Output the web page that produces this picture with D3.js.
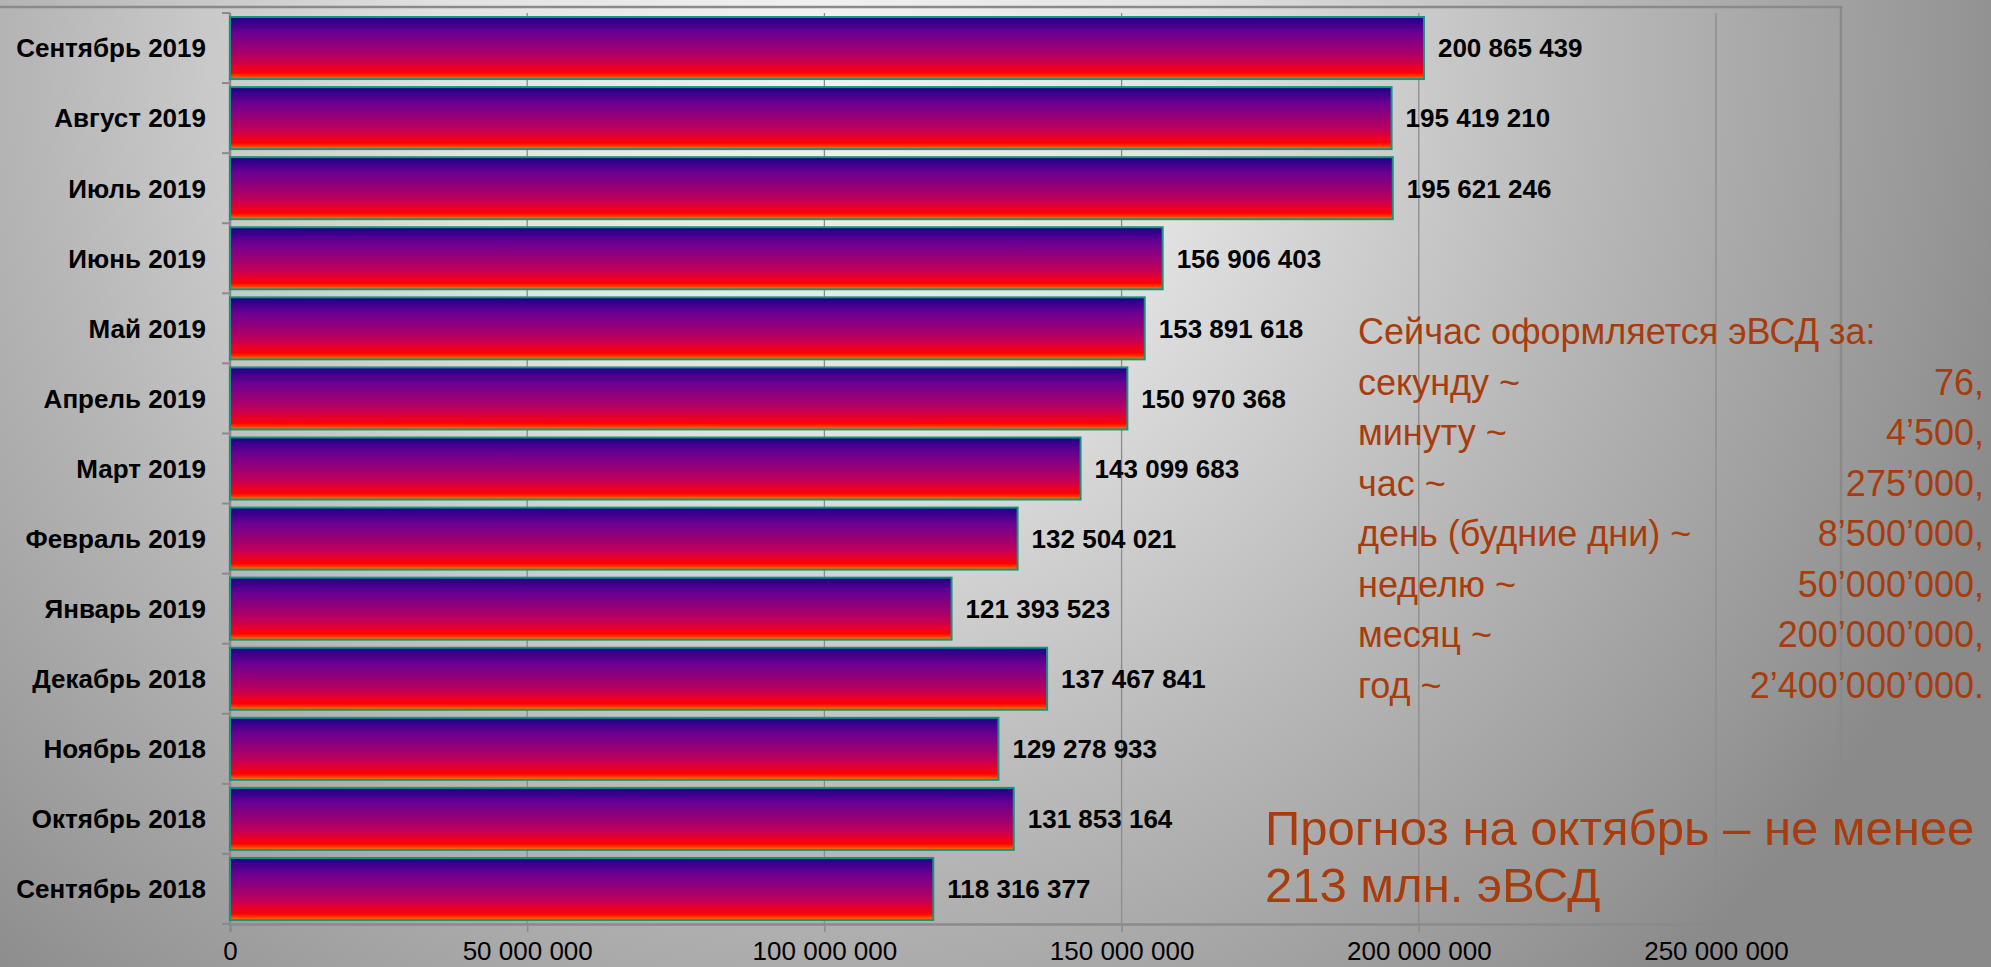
<!DOCTYPE html>
<html>
<head>
<meta charset="utf-8">
<script src="https://cdn.jsdelivr.net/npm/d3@7"></script>
<style>
  body { margin: 0; padding: 0; overflow: hidden; }
  text { font-family: "Liberation Sans", Arial, sans-serif; }
</style>
</head>
<body>
<div id="chart"></div>
<script>

var months = ["Сентябрь 2019", "Август 2019", "Июль 2019", "Июнь 2019", "Май 2019",
  "Апрель 2019", "Март 2019", "Февраль 2019", "Январь 2019", "Декабрь 2018",
  "Ноябрь 2018", "Октябрь 2018", "Сентябрь 2018"]
var counts = [200865439, 195419210, 195621246, 156906403, 153891618,
  150970368, 143099683, 132504021, 121393523, 137467841,
  129278933, 131853164, 118316377]
var xTicks = [0, 50000000, 100000000, 150000000, 200000000, 250000000]

var rateTitle = "Сейчас оформляется эВСД за:"
var rateLabels = ["секунду ~", "минуту ~", "час ~", "день (будние дни) ~", "неделю ~", "месяц ~", "год ~"]
var rateValues = ["76,", "4’500,", "275’000,", "8’500’000,", "50’000’000,", "200’000’000,", "2’400’000’000."]
var forecastLines = ["Прогноз на октябрь – не менее", "213 млн. эВСД"]

var W = 1991, H = 967
var fmt = function(v) { return d3.format(",")(v).replace(/,/g, " ") }

var svg = d3.select("#chart")
  .append("svg")
  .attr("width", W)
  .attr("height", H)

var defs = svg.append("defs")

// background
var bg = defs.append("radialGradient")
  .attr("id", "bg")
  .attr("gradientUnits", "userSpaceOnUse")
  .attr("cx", 820).attr("cy", 60).attr("r", 1250)
bg.append("stop").attr("offset", 0).attr("stop-color", "#f2f2f2")
bg.append("stop").attr("offset", 0.3).attr("stop-color", "#e2e2e2")
bg.append("stop").attr("offset", 0.62).attr("stop-color", "#b8b8b8")
bg.append("stop").attr("offset", 0.9).attr("stop-color", "#979797")
bg.append("stop").attr("offset", 1).attr("stop-color", "#8a8a8a")

// bar fill
var bar = defs.append("linearGradient")
  .attr("id", "barFill")
  .attr("x1", 0).attr("y1", 0).attr("x2", 0).attr("y2", 1)
var barStops = [[0, "#1c0088"], [0.25, "#6a0092"], [0.47, "#940078"], [0.68, "#c0005a"],
  [0.84, "#f00020"], [0.9, "#ff0000"], [0.95, "#ff3a00"], [1, "#ff8000"]]
barStops.forEach(function(s) {
  bar.append("stop").attr("offset", s[0]).attr("stop-color", s[1])
})

svg.append("rect")
  .attr("width", W).attr("height", H)
  .attr("fill", "url(#bg)")

// outer frame
svg.append("path")
  .attr("d", "M-2,7H1841V975")
  .attr("fill", "none")
  .attr("stroke", "#8a8a8a")
  .attr("stroke-width", 2.5)

var x = d3.scaleLinear()
  .domain([0, 250000000])
  .range([230, 1716])

var y = d3.scaleBand()
  .domain(months)
  .range([13, 924])
  .paddingInner(0.115)
  .paddingOuter(0.0575)

// gridlines
svg.append("g")
  .selectAll("line")
  .data(xTicks.slice(1))
  .enter()
  .append("line")
  .attr("x1", function(d) { return x(d) })
  .attr("x2", function(d) { return x(d) })
  .attr("y1", 13)
  .attr("y2", 924)
  .attr("stroke", "#8c8c8c")
  .attr("stroke-width", 1.3)

// x axis
var xaxis = svg.append("g")
  .attr("transform", "translate(0,924)")
  .call(d3.axisBottom(x).tickValues(xTicks).tickSize(8).tickFormat(fmt))
xaxis.select(".domain").attr("stroke", "#8a8a8a").attr("stroke-width", 2.5)
xaxis.selectAll(".tick line").attr("stroke", "#8a8a8a").attr("stroke-width", 1.5)
xaxis.selectAll("text")
  .attr("y", 36)
  .attr("dy", 0)
  .attr("fill", "#000")
  .style("font-size", "26px")
  .style("font-family", "'Liberation Sans', Arial, sans-serif")

// y axis
var step = y.step()
var yg = svg.append("g")
yg.append("line")
  .attr("x1", 230).attr("x2", 230)
  .attr("y1", 13).attr("y2", 924)
  .attr("stroke", "#8a8a8a")
  .attr("stroke-width", 2.5)
yg.selectAll(".ytick")
  .data(d3.range(months.length + 1))
  .enter()
  .append("line")
  .attr("class", "ytick")
  .attr("x1", 222).attr("x2", 230)
  .attr("y1", function(i) { return 13 + i * step })
  .attr("y2", function(i) { return 13 + i * step })
  .attr("stroke", "#8a8a8a")
  .attr("stroke-width", 2)
yg.selectAll(".ylabel")
  .data(months)
  .enter()
  .append("text")
  .attr("class", "ylabel")
  .attr("x", 206)
  .attr("y", function(d) { return y(d) + y.bandwidth() / 2 })
  .attr("dy", "0.36em")
  .attr("text-anchor", "end")
  .attr("font-size", 26)
  .attr("font-weight", "bold")
  .attr("fill", "#000")
  .text(function(d) { return d })

// bars
var g = svg.selectAll(".bar")
  .data(months)
  .enter()
  .append("g")

g.append("rect")
  .attr("class", "bar")
  .attr("x", x(0))
  .attr("y", function(d) { return y(d) })
  .attr("width", function(d, i) { return x(counts[i]) - x(0) })
  .attr("height", y.bandwidth())
  .attr("fill", "url(#barFill)")
  .attr("stroke", "#14947a")
  .attr("stroke-width", 2)

g.append("text")
  .attr("x", function(d, i) { return x(counts[i]) + 14 })
  .attr("y", function(d) { return y(d) + y.bandwidth() / 2 })
  .attr("dy", "0.36em")
  .attr("font-size", 26)
  .attr("font-weight", "bold")
  .attr("fill", "#000")
  .text(function(d, i) { return fmt(counts[i]) })

// rates text block
var textColor = "#a83c0c"
var lineH = 50.5
svg.append("text")
  .attr("x", 1358).attr("y", 344)
  .attr("font-size", 36)
  .attr("fill", textColor)
  .text(rateTitle)

svg.selectAll(".rlabel")
  .data(rateLabels)
  .enter()
  .append("text")
  .attr("class", "rlabel")
  .attr("x", 1358)
  .attr("y", function(d, i) { return 344 + (i + 1) * lineH })
  .attr("font-size", 36)
  .attr("fill", textColor)
  .text(function(d) { return d })

svg.selectAll(".rvalue")
  .data(rateValues)
  .enter()
  .append("text")
  .attr("class", "rvalue")
  .attr("x", 1984)
  .attr("y", function(d, i) { return 344 + (i + 1) * lineH })
  .attr("text-anchor", "end")
  .attr("font-size", 36)
  .attr("fill", textColor)
  .text(function(d) { return d })

// forecast
svg.selectAll(".forecast")
  .data(forecastLines)
  .enter()
  .append("text")
  .attr("class", "forecast")
  .attr("x", 1265)
  .attr("y", function(d, i) { return 845 + i * 57 })
  .attr("font-size", 49)
  .attr("fill", textColor)
  .text(function(d) { return d })

</script>
</body>
</html>
